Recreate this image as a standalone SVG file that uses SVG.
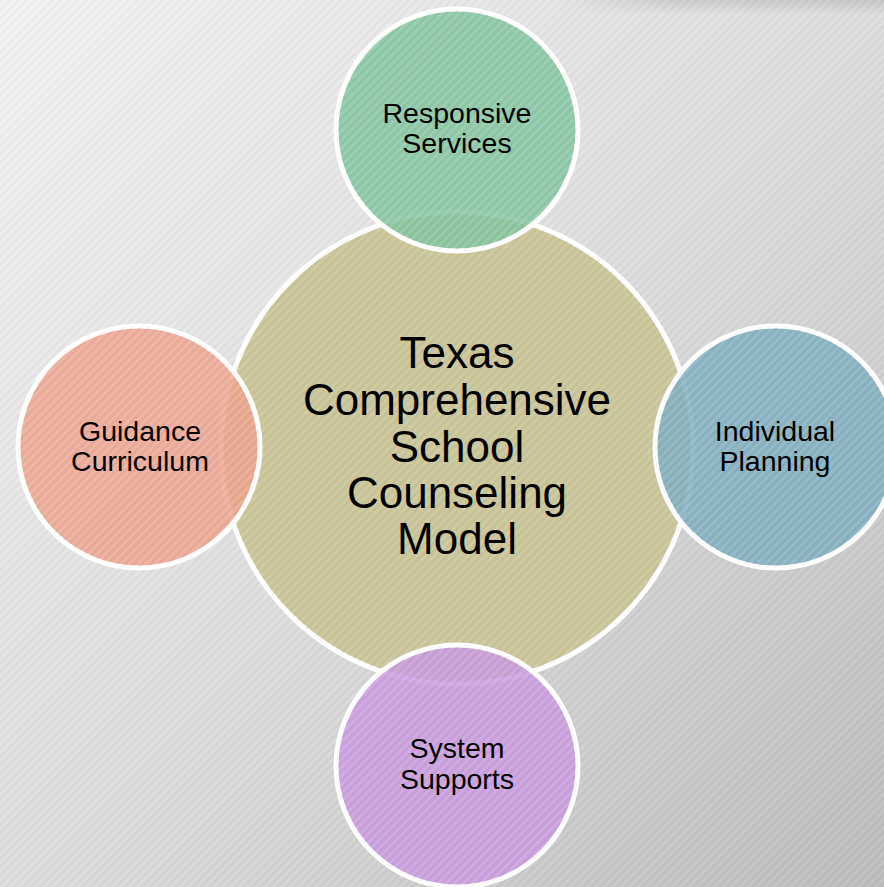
<svg xmlns="http://www.w3.org/2000/svg" width="884" height="887" viewBox="0 0 884 887">
<defs>
<linearGradient id="bg" x1="0" y1="0" x2="1" y2="1">
<stop offset="0" stop-color="#f3f3f3"/>
<stop offset="0.5" stop-color="#dedede"/>
<stop offset="1" stop-color="#bdbdbd"/>
</linearGradient>
<linearGradient id="topShade" x1="0" y1="0" x2="0" y2="1">
<stop offset="0" stop-color="#000" stop-opacity="0.10"/>
<stop offset="1" stop-color="#000" stop-opacity="0"/>
</linearGradient>
<linearGradient id="shadeMaskGrad" x1="0" y1="0" x2="1" y2="0">
<stop offset="0" stop-color="#fff" stop-opacity="0"/>
<stop offset="0.35" stop-color="#fff" stop-opacity="1"/>
<stop offset="1" stop-color="#fff" stop-opacity="1"/>
</linearGradient>
<mask id="shadeMask" maskUnits="userSpaceOnUse" x="560" y="0" width="324" height="14">
<rect x="560" y="0" width="324" height="14" fill="url(#shadeMaskGrad)"/>
</mask>
<pattern id="stripes" width="6" height="6" patternUnits="userSpaceOnUse" patternTransform="rotate(45)">
<rect x="0" y="0" width="2.5" height="6" fill="#000" fill-opacity="0.03"/>
<rect x="3" y="0" width="2" height="6" fill="#fff" fill-opacity="0.07"/>
</pattern>
<style>
.ring{stroke:#ffffff;stroke-width:5}
.sat{fill-opacity:0.86}
.t{font-family:"Liberation Sans",Arial,sans-serif;fill:#000;text-anchor:middle}
.big{font-size:44px}
.small{font-size:28.5px}
</style>
</defs>
<rect width="884" height="887" fill="url(#bg)"/>
<rect x="560" y="0" width="324" height="14" fill="url(#topShade)" mask="url(#shadeMask)"/>
<rect width="884" height="887" fill="url(#stripes)"/>

<g id="center">
<circle cx="457" cy="448" r="236" class="ring" fill="#cdc79d"/>
<circle cx="457" cy="448" r="236" fill="url(#stripes)"/>
<text class="t big" x="457" y="368">Texas</text>
<text class="t big" x="457" y="415">Comprehensive</text>
<text class="t big" x="457" y="462">School</text>
<text class="t big" x="457" y="508">Counseling</text>
<text class="t big" x="457" y="554">Model</text>
</g>

<g id="responsive">
<circle cx="457" cy="130" r="121" class="ring sat" fill="#86c7a2"/>
<circle cx="457" cy="130" r="121" fill="url(#stripes)"/>
<text class="t small" x="457" y="123">Responsive</text>
<text class="t small" x="457" y="153">Services</text>
</g>

<g id="guidance">
<circle cx="139" cy="447" r="121" class="ring sat" fill="#f0a692"/>
<circle cx="139" cy="447" r="121" fill="url(#stripes)"/>
<text class="t small" x="140" y="441">Guidance</text>
<text class="t small" x="140" y="471">Curriculum</text>
</g>

<g id="individual">
<circle cx="776" cy="447" r="121" class="ring sat" fill="#82b1c3"/>
<circle cx="776" cy="447" r="121" fill="url(#stripes)"/>
<text class="t small" x="775" y="441">Individual</text>
<text class="t small" x="775" y="471">Planning</text>
</g>

<g id="system">
<circle cx="457" cy="766" r="121" class="ring sat" fill="#cc9de2"/>
<circle cx="457" cy="766" r="121" fill="url(#stripes)"/>
<text class="t small" x="457" y="758">System</text>
<text class="t small" x="457" y="789">Supports</text>
</g>

<g id="connectors"/>
</svg>
